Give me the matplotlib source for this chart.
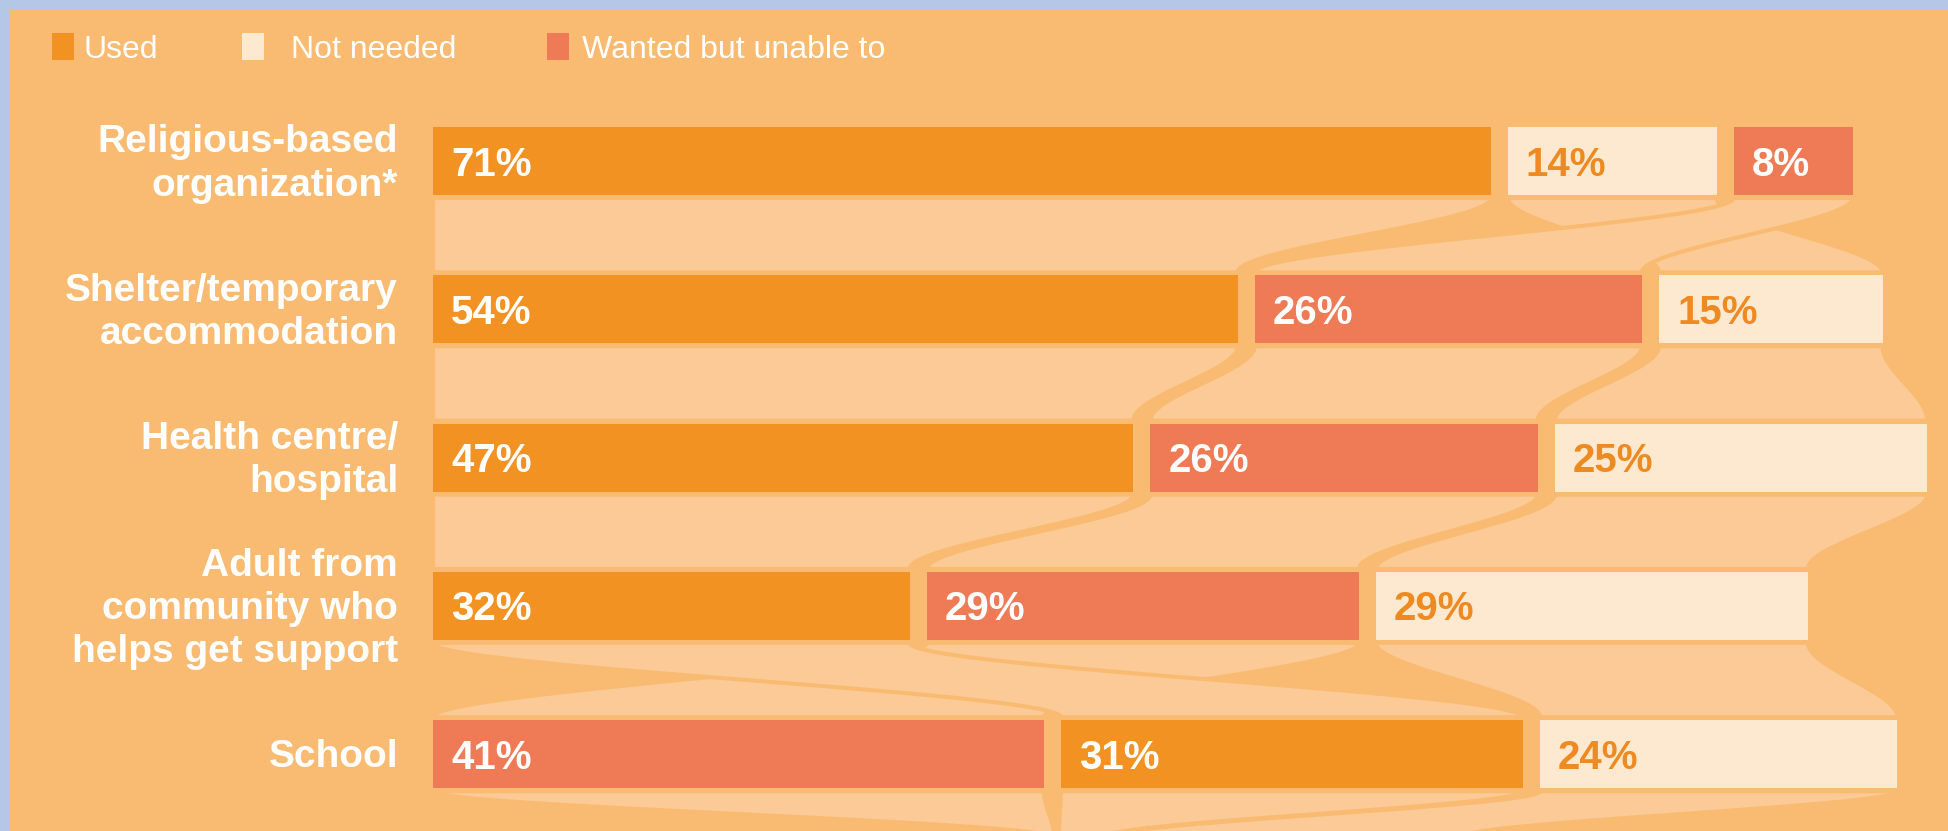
import numpy as np
import matplotlib
matplotlib.use("Agg")
import matplotlib.pyplot as plt
from matplotlib.patches import Rectangle

# ---------------- data ----------------
categories = ["Religious-based\norganization*",
              "Shelter/temporary\naccommodation",
              "Health centre/\nhospital",
              "Adult from\ncommunity who\nhelps get support",
              "School"]
used = [71, 54, 47, 32, 31]
not_needed = [14, 15, 25, 29, 24]
wanted = [8, 26, 26, 29, 41]
series_names = ["Used", "Not needed", "Wanted but unable to"]

# ---------------- style ----------------
BLUE = "#B4C7E7"
BG = "#F9BB71"
RIB = "#FBCA96"
COL = {"Used": "#F29223", "Not needed": "#FDE9CF", "Wanted but unable to": "#EE7B56"}
LBL = {"Used": "white", "Not needed": "#EE8A22", "Wanted but unable to": "white"}
FAM = ["Liberation Sans", "DejaVu Sans"]

W, H = 1949, 831
fig = plt.figure(figsize=(W / 100, H / 100), dpi=100, facecolor=BLUE)
fig.patches.append(Rectangle((10 / W, 0), 1, 1 - 10 / H, transform=fig.transFigure,
                             facecolor=BG, edgecolor="none", zorder=-10))
ax = fig.add_axes([0, 0, 1, 1], zorder=5)
ax.set_facecolor("none")
ax.axis("off")

PX = 14.9        # pixels per percentage point
X0 = 433         # pixel x of bar origin
ROW0 = 161       # pixel y of first row centre
ROWSTEP = 148.3  # pixels between rows
ax.set_xlim(-X0 / PX, (W - X0) / PX)
ax.set_ylim((H - ROW0) / ROWSTEP, -ROW0 / ROWSTEP)

vals = {"Used": used, "Not needed": not_needed, "Wanted but unable to": wanted}
priority = ["Used", "Wanted but unable to", "Not needed"]
GAP = 17 / PX
BH = 68 / ROWSTEP
n = len(categories)

layout = []
for i in range(n):
    order = sorted(priority, key=lambda s: -vals[s][i])
    pos = 0.0
    d = {}
    for s in order:
        d[s] = (pos, pos + vals[s][i])
        pos += vals[s][i] + GAP
    layout.append(d)

# ---------------- ribbons ----------------
t = np.linspace(0, 1, 160)
sm = 3 * t ** 2 - 2 * t ** 3
pad = 3 / ROWSTEP


def ribbon(a, b, y0, y1):
    y = y0 + (y1 - y0) * t
    xl = a[0] + (b[0] - a[0]) * sm
    xr = a[1] + (b[1] - a[1]) * sm
    ax.fill(np.concatenate([xl, xr[::-1]]), np.concatenate([y, y[::-1]]),
            facecolor=RIB, edgecolor=BG, lw=2.9, zorder=2)


draw_order = ["Not needed", "Wanted but unable to", "Used"]
for i in range(n - 1):
    for s in draw_order:
        ribbon(layout[i][s], layout[i + 1][s], i + BH / 2 + pad, i + 1 - BH / 2 - pad)

# tail of ribbons running off the bottom edge
last = n - 1
tail_targets = {"Wanted but unable to": (41.5, 41.7), "Used": (42.0, 45.0), "Not needed": (45.5, 69.0)}
for s in draw_order:
    ribbon(layout[last][s], tail_targets[s], last + BH / 2 + pad, last + BH / 2 + pad + 46 / ROWSTEP)

# ---------------- bars ----------------
for s in series_names:
    starts = [layout[i][s][0] for i in range(n)]
    ax.barh(range(n), vals[s], left=starts, height=BH, color=COL[s], zorder=3)
    for i in range(n):
        ax.text(starts[i] + 18 / PX, i + 14.5 / ROWSTEP, f"{vals[s][i]}%",
                ha="left", va="baseline", fontsize=29, fontweight="bold",
                color=LBL[s], family=FAM, zorder=4)

for i, c in enumerate(categories):
    ax.text(-35 / PX, i + 3 / ROWSTEP, c, ha="right", va="center", fontsize=28, fontweight="bold",
            color="white", family=FAM, linespacing=1.25, zorder=4)

# ---------------- legend ----------------
leg_sq_x = [52, 242, 547]
leg_tx_x = [83, 291, 582]
for s, sx, tx in zip(series_names, leg_sq_x, leg_tx_x):
    fig.patches.append(Rectangle((sx / W, 1 - 60 / H), 22 / W, 27 / H, transform=fig.transFigure,
                                 facecolor=COL[s], edgecolor="none", zorder=1))
    fig.text(tx / W, 1 - 58 / H, s, ha="left", va="baseline", fontsize=23,
             color="white", family=FAM)

fig.savefig("out.png", dpi=100, facecolor=BLUE)
